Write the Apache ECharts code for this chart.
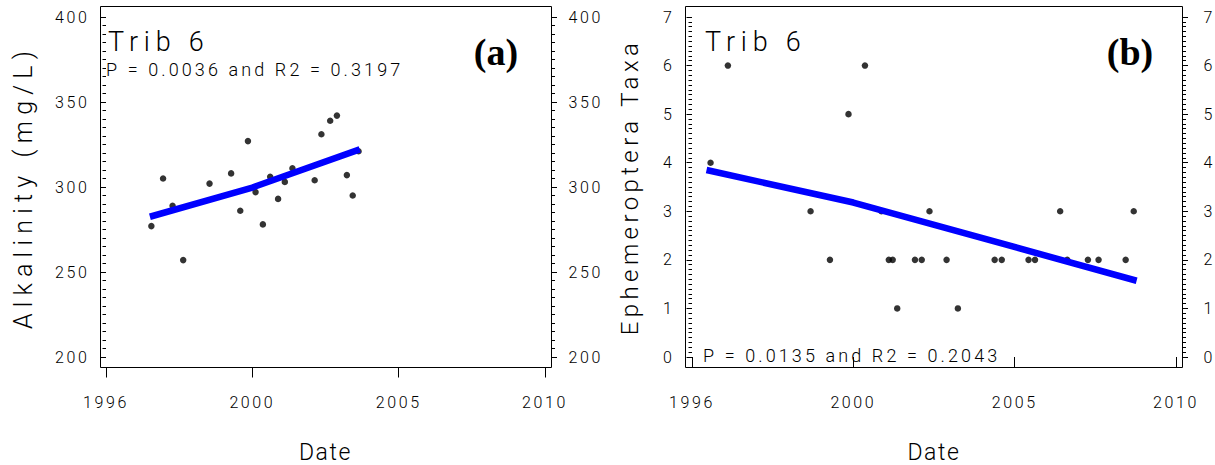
<!DOCTYPE html>
<html>
<head>
<meta charset="utf-8">
<title>Trib 6</title>
<script src="https://cdn.jsdelivr.net/npm/echarts@6/dist/echarts.min.js"></script>
<style>
  html, body { margin: 0; padding: 0; background: #fff; }
  #chart { width: 1215px; height: 465px; }
  /* wide SAS-style lettering, picked by font size */
  #chart text[style*="16px"] { letter-spacing: 2.6px; }
  #chart text[style*="18px"] { letter-spacing: 3.1px; }
  #chart text[style*="23px"] { letter-spacing: 1.6px; }
  #chart text[style*="24px"] { letter-spacing: 4.4px; }
  #chart text[style*="25px"] { letter-spacing: 6.2px; }
  #chart text[style*="27px"] { letter-spacing: 5.8px; }
</style>
</head>
<body>
<div id="chart"></div>
<script>
  // date axis: 1996, 2000, 2005, 2010 are drawn equally spaced
  let dateTicks = ['1996', '2000', '2005', '2010']

  // (a) alkalinity, mg/L
  let alkDates = [1997.24, 1997.56, 1997.82, 1998.11, 1998.83, 1999.42, 1999.67, 1999.88, 2000.11, 2000.36,
    2000.61, 2000.88, 2001.11, 2001.37, 2002.13, 2002.36, 2002.66, 2002.89, 2003.23, 2003.43, 2003.63]
  let alkValues = [277, 305, 289, 257, 302, 308, 286, 327, 297, 278,
    306, 293, 303, 311, 304, 331, 339, 342, 307, 295, 321]
  let alkFitDates = [1997.2, 2000, 2003.67]
  let alkFitValues = [282.5, 299.7, 322.1]

  // (b) Ephemeroptera taxa
  let ephDates = [1996.46, 1996.89, 1998.94, 1999.42, 1999.88, 2000.36, 2000.87, 2001.10, 2001.22, 2001.36,
    2001.91, 2002.12, 2002.36, 2002.89, 2003.24, 2004.38, 2004.60, 2005.43, 2005.63, 2006.41,
    2006.63, 2007.27, 2007.60, 2008.44, 2008.69]
  let ephValues = [4, 6, 3, 2, 5, 6, 3, 2, 2, 1,
    2, 2, 3, 2, 1, 2, 2, 2, 2, 3,
    2, 2, 2, 2, 3]
  let ephFitDates = [1996.36, 2000, 2008.78]
  let ephFitValues = [3.85, 3.18, 1.57]

  let font = "Roboto, 'Liberation Sans', sans-serif"
  let weight = 300
  let serif = "'Liberation Serif', 'Times New Roman', serif"

  // position on the date axis (each tick gap is one unit)
  function datePos(year) {
    if (year < 2000) return (year - 1996) / 4
    return 1 + (year - 2000) / 5
  }
  function pairs(xs, ys) {
    return xs.map((x, i) => [datePos(x), ys[i]])
  }

  function xAxis(grid) {
    return {
      type: 'value', gridIndex: grid, min: 0, max: 3, interval: 1,
      position: 'bottom', offset: 10.5,
      name: 'Date', nameLocation: 'middle', nameGap: 73,
      nameTextStyle: { fontSize: 23, fontFamily: font, fontWeight: weight, color: '#000' },
      axisLine: { show: false },
      axisTick: { show: true, length: 10, lineStyle: { color: '#000' } },
      axisLabel: {
        margin: 27, fontSize: 16, fontFamily: font, fontWeight: weight, color: '#000',
        formatter: v => dateTicks[Math.round(v)]
      },
      splitLine: { show: false }
    }
  }

  function yAxis(grid, pos, min, max, interval, offset, margin, name, nameSize, nameGap) {
    return {
      type: 'value', gridIndex: grid, position: pos, offset: offset,
      min: min, max: max, interval: interval,
      name: name, nameLocation: 'middle', nameGap: nameGap,
      nameTextStyle: { fontSize: nameSize, fontFamily: font, fontWeight: weight, color: '#000' },
      axisLine: { show: false },
      axisTick: { show: true, length: 5.5, lineStyle: { color: '#000' } },
      minorTick: { show: true, splitNumber: 10, length: 3.5, lineStyle: { color: '#000' } },
      axisLabel: { margin: margin, fontSize: 16, fontFamily: font, fontWeight: weight, color: '#000' },
      splitLine: { show: false }
    }
  }

  function label(text, x, y, size) {
    return {
      type: 'text', x: x, y: y, z: 10,
      style: { text: text, fontSize: size, fontFamily: font, fontWeight: weight, fill: '#000', align: 'left', verticalAlign: 'middle' }
    }
  }
  function tag(text, x, y) {
    return {
      type: 'text', x: x, y: y, z: 10,
      style: { text: text, fontSize: 38, fontWeight: 'bold', fontFamily: serif, fill: '#000', align: 'center', verticalAlign: 'middle' }
    }
  }
  function frame(x, y, w, h) {
    return {
      type: 'rect', z: 5, shape: { x: x, y: y, width: w, height: h },
      style: { fill: 'none', stroke: '#000', lineWidth: 1 }
    }
  }

  let myChart = echarts.init(document.getElementById('chart'), null, { renderer: 'svg' })
  let option = {
    animation: false,
    backgroundColor: '#fff',
    grid: [
      { left: 106, top: 17, width: 439, height: 340, outerBoundsMode: 'none', containLabel: false },
      { left: 692, top: 17, width: 484, height: 340, outerBoundsMode: 'none', containLabel: false }
    ],
    xAxis: [xAxis(0), xAxis(1)],
    yAxis: [
      yAxis(0, 'left', 200, 400, 50, 5.5, 11, 'Alkalinity (mg/L)', 25, 65),
      yAxis(0, 'right', 200, 400, 50, 6.5, 17, '', 16, 0),
      yAxis(1, 'left', 0, 7, 1, 6.5, 11, 'Ephemeroptera Taxa', 24, 44),
      yAxis(1, 'right', 0, 7, 1, 6.5, 21, '', 16, 0)
    ],
    graphic: [
      frame(100.5, 6.5, 451, 361),
      frame(685.5, 6.5, 497, 361),
      label('Trib 6', 108, 41.5, 27),
      label('P = 0.0036 and R2 = 0.3197', 106, 69, 18),
      tag('(a)', 496, 52),
      label('Trib 6', 705, 41.5, 27),
      label('P = 0.0135 and R2 = 0.2043', 703, 355, 18),
      tag('(b)', 1130, 52)
    ],
    series: [
      {
        name: 'Alkalinity', type: 'scatter', xAxisIndex: 0, yAxisIndex: 0,
        symbolSize: 6.5, itemStyle: { color: '#000' },
        data: pairs(alkDates, alkValues)
      },
      {
        name: 'Alkalinity fit', type: 'line', xAxisIndex: 0, yAxisIndex: 0,
        symbol: 'none', lineStyle: { color: '#0000ff', width: 6.5 },
        data: pairs(alkFitDates, alkFitValues)
      },
      {
        name: 'Ephemeroptera', type: 'scatter', xAxisIndex: 1, yAxisIndex: 2,
        symbolSize: 6.5, itemStyle: { color: '#000' },
        data: pairs(ephDates, ephValues)
      },
      {
        name: 'Ephemeroptera fit', type: 'line', xAxisIndex: 1, yAxisIndex: 2,
        symbol: 'none', lineStyle: { color: '#0000ff', width: 6.5 },
        data: pairs(ephFitDates, ephFitValues)
      }
    ]
  }
  myChart.setOption(option)
</script>
</body>
</html>
